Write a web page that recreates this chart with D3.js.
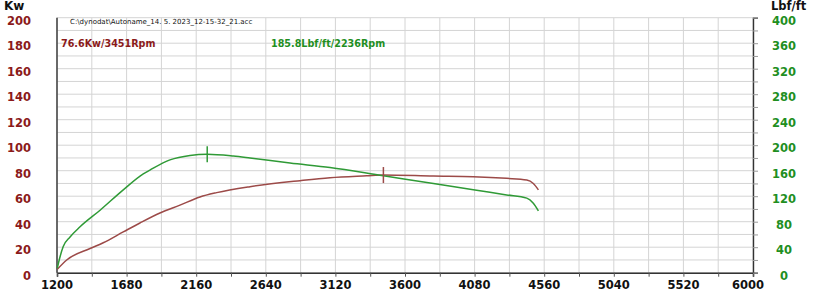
<!DOCTYPE html>
<html lang="en">
<head>
  <meta charset="UTF-8">
  <title>Dyno</title>
  <script src="https://d3js.org/d3.v7.min.js"></script>
  <style>
    body { margin: 0; background: #fff; }
    text { font-family: "DejaVu Sans", Verdana, sans-serif; }
  </style>
</head>
<body>
  <script>
    // rpm readings and the two curves
    let powerRpm = [1202, 1267, 1428, 1519, 1657, 1772, 1910, 2048, 2186, 2301, 2531, 2876, 3083, 3336, 3451, 3796, 4071, 4301, 4440, 4485, 4520]
    let powerKw = [2.7, 10, 19, 23.5, 32, 39, 46.8, 53, 59.4, 62.8, 67.5, 72.2, 74.5, 76, 76.6, 75.8, 75.3, 74, 72.7, 70, 65]
    let torqueRpm = [1202, 1221, 1243, 1290, 1359, 1497, 1657, 1795, 1841, 1979, 2117, 2236, 2416, 2531, 2807, 3083, 3451, 3796, 4071, 4301, 4440, 4485, 4520]
    let torqueLbf = [7, 25, 41, 56, 72, 98, 130, 155, 161, 177, 184, 185.8, 183, 180, 172, 165, 152, 140, 130, 122, 117, 109, 97]
    let rpmTicks = [1200, 1680, 2160, 2640, 3120, 3600, 4080, 4560, 5040, 5520, 6000]
    let kwTicks = [0, 20, 40, 60, 80, 100, 120, 140, 160, 180, 200]
    let lbfTicks = [0, 40, 80, 120, 160, 200, 240, 280, 320, 360, 400]
    let peakPower = { rpm: 3451, value: 76.6 }
    let peakTorque = { rpm: 2236, value: 185.8 }
    let fileName = 'C:\\dynodat\\Autoname_14. 5. 2023_12-15-32_21.acc'

    const red = '#8b1a1a', redLine = '#9c4a48', green = '#1f8f1f', greenLine = '#2f9a36'
    const mLeft = 57, mRight = 753, mTop = 17.7, mBottom = 272.7

    let svg = d3.select('body').append('svg')
      .attr('width', 816).attr('height', 297)

    let x = d3.scaleLinear().domain([1200, 6000]).range([mLeft, mRight])
    let yKw = d3.scaleLinear().domain([0, 200]).range([mBottom, mTop])
    let yLbf = d3.scaleLinear().domain([0, 400]).range([mBottom, mTop])

    // grid
    let grid = svg.append('g').attr('stroke', '#d4d4d4').attr('stroke-width', 1)
    grid.selectAll('line.v').data(d3.range(1200, 6001, 240)).enter().append('line')
      .attr('class', 'v')
      .attr('x1', d => x(d)).attr('x2', d => x(d)).attr('y1', mTop).attr('y2', mBottom)
    grid.selectAll('line.h').data(d3.range(0, 201, 10)).enter().append('line')
      .attr('class', 'h')
      .attr('x1', mLeft).attr('x2', mRight).attr('y1', d => yKw(d)).attr('y2', d => yKw(d))

    // axes
    let xAxis = svg.append('g').attr('transform', `translate(0,${mBottom})`)
      .call(d3.axisBottom(x).tickValues(d3.range(1200, 6001, 240)).tickSize(4).tickFormat(''))
    xAxis.select('.domain').attr('stroke', '#333').attr('stroke-width', 1.6)
    xAxis.selectAll('.tick line').attr('stroke', '#555')

    let rAxis = svg.append('g').attr('transform', `translate(${mRight},0)`)
      .call(d3.axisRight(yLbf).tickValues(d3.range(0, 401, 20)).tickSize(5).tickFormat(''))
    rAxis.select('.domain').attr('stroke', '#333').attr('stroke-width', 1.4)
    rAxis.selectAll('.tick line').attr('stroke', '#999')

    svg.append('line').attr('x1', mLeft).attr('x2', mLeft).attr('y1', mTop).attr('y2', mBottom)
      .attr('stroke', '#333').attr('stroke-width', 1.4)

    // tick labels
    svg.selectAll('text.kw').data(kwTicks).enter().append('text')
      .attr('x', 31).attr('y', d => yKw(d) + 7).attr('text-anchor', 'end')
      .attr('font-size', 11.5).attr('font-weight', 'bold').attr('fill', red)
      .text(d => d)
    svg.selectAll('text.lbf').data(lbfTicks).enter().append('text')
      .attr('x', 784).attr('y', d => yLbf(d) + 7).attr('text-anchor', 'middle')
      .attr('font-size', 11.5).attr('font-weight', 'bold').attr('fill', green)
      .text(d => d)
    svg.selectAll('text.rpm').data(rpmTicks).enter().append('text')
      .attr('x', d => x(d) - (d === 6000 ? 5 : 0)).attr('y', 289).attr('text-anchor', 'middle')
      .attr('font-size', 11.5).attr('font-weight', 'bold').attr('fill', '#111')
      .text(d => d)

    svg.append('text').attr('x', 4).attr('y', 10).attr('font-size', 12)
      .attr('font-weight', 'bold').attr('fill', '#111').text('Kw')
    svg.append('text').attr('x', 771).attr('y', 10).attr('font-size', 11.5)
      .attr('font-weight', 'bold').attr('fill', '#111').text('Lbf/ft')

    // header texts
    svg.append('text').attr('x', 70).attr('y', 24).attr('font-size', 7)
      .attr('font-family', 'Liberation Sans, Arial, sans-serif').attr('fill', '#111')
      .text(fileName)
    svg.append('text').attr('x', 61).attr('y', 47).attr('font-size', 9.6)
      .attr('font-weight', 'bold').attr('fill', red)
      .text(peakPower.value + 'Kw/' + peakPower.rpm + 'Rpm')
    svg.append('text').attr('x', 271).attr('y', 47).attr('font-size', 9.6)
      .attr('font-weight', 'bold').attr('fill', green)
      .text(peakTorque.value + 'Lbf/ft/' + peakTorque.rpm + 'Rpm')

    // curves
    let powerLine = d3.line().x(d => x(d[0])).y(d => yKw(d[1])).curve(d3.curveMonotoneX)
    let torqueLine = d3.line().x(d => x(d[0])).y(d => yLbf(d[1])).curve(d3.curveMonotoneX)

    svg.append('path').datum(d3.zip(powerRpm, powerKw))
      .attr('d', powerLine).attr('fill', 'none').attr('stroke', redLine).attr('stroke-width', 1.5)
    svg.append('path').datum(d3.zip(torqueRpm, torqueLbf))
      .attr('d', torqueLine).attr('fill', 'none').attr('stroke', greenLine).attr('stroke-width', 1.5)

    // peak markers
    svg.append('line').attr('x1', x(peakTorque.rpm)).attr('x2', x(peakTorque.rpm))
      .attr('y1', yLbf(peakTorque.value) - 8).attr('y2', yLbf(peakTorque.value) + 8)
      .attr('stroke', greenLine).attr('stroke-width', 1.5)
    svg.append('line').attr('x1', x(peakPower.rpm)).attr('x2', x(peakPower.rpm))
      .attr('y1', yKw(peakPower.value) - 8).attr('y2', yKw(peakPower.value) + 8)
      .attr('stroke', redLine).attr('stroke-width', 1.5)
  </script>
</body>
</html>
